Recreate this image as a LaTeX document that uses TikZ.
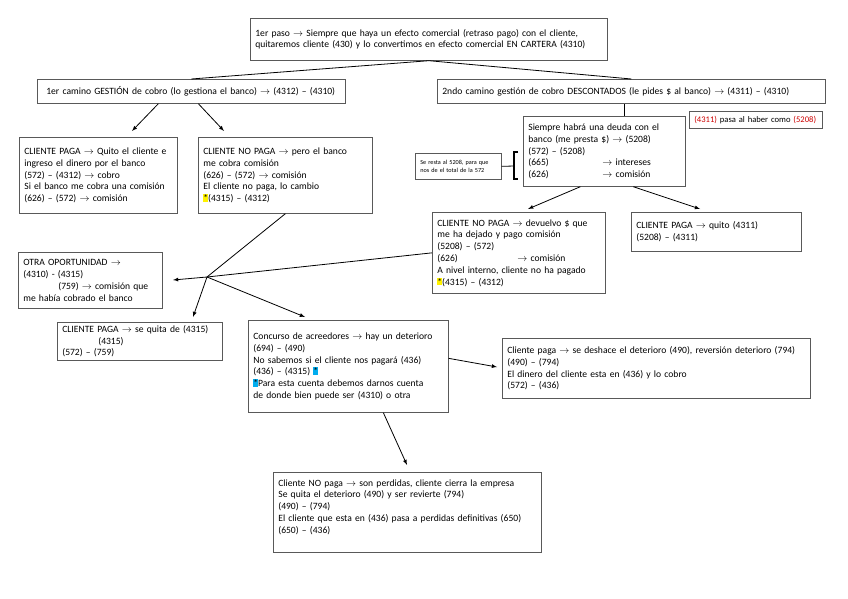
\documentclass[tikz,border=0pt]{standalone}
\usepackage{fontspec}
\setmainfont{Carlito}
\usepackage{tikz}
\definecolor{rojo}{RGB}{204,0,0}
\tikzset{
	caja/.style={draw=black!65, line width=0.7pt, anchor=north west, align=left, inner xsep=5pt, inner ysep=2pt, font=\fontsize{9.6}{11.8}\selectfont},
	linea/.style={line width=0.8pt},
	flecha/.style={line width=0.8pt, -latex},
}
\newcommand{\marca}[2]{{\setlength{\fboxsep}{0pt}\colorbox{#1}{\rule{0pt}{7.5pt}#2}}}

\begin{document}
\begin{tikzpicture}[x=1pt,y=-1pt]
	\useasboundingbox (0,0) rectangle (848,599);
	% cajas
	\node[caja, text width=347pt, minimum height=42pt] (paso) at (250,18) {1er paso $\rightarrow$ Siempre que haya un efecto comercial (retraso pago) con el cliente,\\ quitaremos cliente (430) y lo convertimos en efecto comercial EN CARTERA (4310)};
	\node[caja, text width=298pt, minimum height=24pt] (camino1) at (37,79) {\hspace*{4pt}1er camino GESTIÓN de cobro (lo gestiona el banco) $\rightarrow$ (4312) -- (4310)};
	\node[caja, text width=378pt, minimum height=24pt] (camino2) at (437,79) {2ndo camino gestión de cobro DESCONTADOS (le pides \$ al banco) $\rightarrow$ (4311) -- (4310)};
	\node[caja, text width=148pt, minimum height=76pt] (pagaA) at (19,137) {CLIENTE PAGA $\rightarrow$ Quito el cliente e\\ ingreso el dinero por el banco\\ (572) -- (4312) $\rightarrow$ cobro\\ Si el banco me cobra una comisión\\ (626) -- (572) $\rightarrow$ comisión};
	\node[caja, text width=164pt, minimum height=76pt] (nopagaA) at (198,137) {CLIENTE NO PAGA $\rightarrow$ pero el banco\\ me cobra comisión\\ (626) -- (572) $\rightarrow$ comisión\\ El cliente no paga, lo cambio\\ \marca{yellow}{*}(4315) -- (4312)};
	\node[caja, text width=152pt, minimum height=70pt] (siempre) at (523,116) {Siempre habrá una deuda con el\\ banco (me presta \$) $\rightarrow$ (5208)\\ (572) -- (5208)\\ \makebox[74pt][l]{(665)}$\rightarrow$ intereses\\ \makebox[74pt][l]{(626)}$\rightarrow$ comisión};
	\node[caja, text width=123pt, minimum height=17pt, font=\fontsize{8.6}{10}\selectfont] (nota) at (689,111) {\textcolor{rojo}{(4311)} pasa al haber como \textcolor{rojo}{(5208)}};
	\node[caja, text width=76pt, minimum height=26pt, font=\fontsize{6.2}{7.6}\selectfont] (resta) at (415,153) {Se resta al 5208, para que\\ nos de el total de la 572};
	\node[caja, text width=163pt, minimum height=81pt] (nopagaB) at (432,212) {CLIENTE NO PAGA $\rightarrow$ devuelvo \$ que\\ me ha dejado y pago comisión\\ (5208) -- (572)\\ \makebox[80pt][l]{(626)}$\rightarrow$ comisión\\ A nivel interno, cliente no ha pagado\\ \marca{yellow}{*}(4315) -- (4312)};
	\node[caja, text width=160pt, minimum height=39pt] (pagaB) at (631,212) {CLIENTE PAGA $\rightarrow$ quito (4311)\\ (5208) -- (4311)};
	\node[caja, text width=134pt, minimum height=56pt] (otra) at (18,252) {OTRA OPORTUNIDAD $\rightarrow$\\ (4310) - (4315)\\ \hspace*{35pt}(759) $\rightarrow$ comisión que\\ me había cobrado el banco};
	\node[caja, text width=155pt, minimum height=38pt] (pagaC) at (57,322) {CLIENTE PAGA $\rightarrow$ se quita de (4315)\\ \hspace*{36pt}(4315)\\ (572) -- (759)};
	\node[caja, text width=190pt, minimum height=92pt] (concurso) at (248,320) {Concurso de acreedores $\rightarrow$ hay un deterioro\\ (694) -- (490)\\ No sabemos si el cliente nos pagará (436)\\ (436) -- (4315) \marca{cyan}{*}\\ \marca{cyan}{*}Para esta cuenta debemos darnos cuenta\\ de donde bien puede ser (4310) o otra};
	\node[caja, text width=298pt, minimum height=60pt] (clientepaga) at (502,338) {Cliente paga $\rightarrow$ se deshace el deterioro (490), reversión deterioro (794)\\ (490) -- (794)\\ El dinero del cliente esta en (436) y lo cobro\\ (572) -- (436)\\[4pt]};
	\node[caja, text width=258pt, minimum height=80pt] (nopagaD) at (273,472) {Cliente NO paga $\rightarrow$ son perdidas, cliente cierra la empresa\\ Se quita el deterioro (490) y ser revierte (794)\\ (490) -- (794)\\ El cliente que esta en (436) pasa a perdidas definitivas (650)\\ (650) -- (436)\\ \mbox{}};
	% puntas libres
	\coordinate (tipA) at (132,131);
	\coordinate (tipB) at (224,131);
	\coordinate (tipC) at (528,209);
	\coordinate (tipD) at (700,209);
	\coordinate (cruce) at (207,277);
	\coordinate (tipE) at (173,280);
	\coordinate (tipF) at (193,317);
	\coordinate (tipG) at (305,317);
	\coordinate (tipH) at (497,367);
	\coordinate (tipI) at (407,465);
	\coordinate (corchete) at (514,166);
	% conectores
	\draw[linea] (paso.south) -- (camino1.north);
	\draw[linea] (paso.south) -- (camino2.north);
	\draw[flecha] ([xshift=-33pt]camino1.south) -- (tipA);
	\draw[flecha] ([xshift=7pt]camino1.south) -- (tipB);
	\draw[linea] ([xshift=20pt]siempre.north) -- ([xshift=20pt]siempre.north |- camino2.south);
	\draw[flecha] ([xshift=-24pt]siempre.south) -- (tipC);
	\draw[flecha] ([xshift=29pt]siempre.south) -- (tipD);
	\draw[linea] (resta.east) -- (corchete);
	\draw[line width=1.2pt] (518,152) -- (514,152) -- (514,179) -- (518,179);
	\draw[linea] (nopagaA.south) -- (cruce);
	\draw[linea] (nopagaB.west) -- (cruce);
	\draw[flecha] (cruce) -- (tipE);
	\draw[flecha] (cruce) -- (tipF);
	\draw[flecha] (cruce) -- (tipG);
	\draw[flecha] ([yshift=8pt]concurso.east) -- (tipH);
	\draw[flecha] ([xshift=35pt]concurso.south) -- (tipI);
\end{tikzpicture}
\end{document}
